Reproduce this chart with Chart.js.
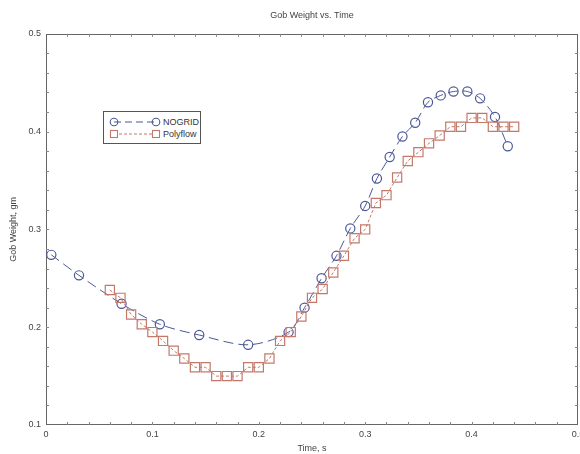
<!DOCTYPE html>
<html>
<head>
<meta charset="utf-8">
<script src="https://cdn.jsdelivr.net/npm/chart.js@4/dist/chart.umd.min.js"></script>
<style>
  html, body { margin: 0; padding: 0; background: #fff; }
  #wrap { position: relative; width: 580px; height: 454px; }
  #legend {
    position: absolute; left: 103px; top: 111px; width: 96px; height: 31px;
    border: 1px solid #555; background: #fff;
    font: 9px 'Liberation Sans', Arial, sans-serif; color: #333;
  }
  #legend svg { position: absolute; left: 0; top: 0; }
  #legend span { position: absolute; left: 59px; line-height: 10px; }
</style>
</head>
<body>
<div id="wrap">
  <canvas id="gobChart" width="580" height="454"></canvas>
  <div id="legend"></div>
</div>
<script>
'use strict';

/* ── 데이터 ─────────────────────────────── */
const NOGRID_TIME = [0.005, 0.031, 0.071, 0.107, 0.144, 0.190, 0.228, 0.243, 0.259, 0.273,
  0.286, 0.300, 0.311, 0.323, 0.335, 0.347, 0.359, 0.371, 0.383, 0.396, 0.408, 0.422, 0.434];
const NOGRID_WEIGHT = [0.274, 0.253, 0.224, 0.203, 0.192, 0.182, 0.195, 0.220, 0.250, 0.273,
  0.301, 0.324, 0.352, 0.374, 0.395, 0.409, 0.430, 0.437, 0.441, 0.441, 0.434, 0.415, 0.385];

const POLY_TIME = [0.06, 0.07, 0.08, 0.09, 0.10, 0.11, 0.12, 0.13, 0.14, 0.15,
  0.16, 0.17, 0.18, 0.19, 0.20, 0.21, 0.22, 0.23, 0.24, 0.25,
  0.26, 0.27, 0.28, 0.29, 0.30, 0.31, 0.32, 0.33, 0.34, 0.35,
  0.36, 0.37, 0.38, 0.39, 0.40, 0.41, 0.42, 0.43, 0.44];
const POLY_WEIGHT = [0.238, 0.230, 0.213, 0.203, 0.195, 0.186, 0.176, 0.168, 0.159, 0.159,
  0.150, 0.150, 0.150, 0.159, 0.159, 0.168, 0.186, 0.195, 0.211, 0.230,
  0.239, 0.256, 0.273, 0.291, 0.300, 0.327, 0.335, 0.353, 0.370, 0.379,
  0.388, 0.396, 0.405, 0.405, 0.414, 0.414, 0.405, 0.405, 0.405];

const X_TICKS = [0, 0.1, 0.2, 0.3, 0.4, 0.5];
const Y_TICKS = [0.1, 0.2, 0.3, 0.4, 0.5];

const BLUE = '#4b5896';
const RED  = '#c4786a';
const FONT = "'Liberation Sans', Arial, sans-serif";

function pairs(xs, ys) { return xs.map((x, i) => ({ x, y: ys[i] })); }

/* ── 테두리 + 안쪽 눈금 ──────────────────── */
const framePlugin = {
  id: 'frame',
  beforeDatasetsDraw(chart) {
    const { ctx, chartArea: a, scales: { x, y } } = chart;
    ctx.save();
    ctx.strokeStyle = '#666';
    ctx.lineWidth = 1;
    ctx.strokeRect(Math.round(a.left) + 0.5, Math.round(a.top) + 0.5,
      Math.round(a.right - a.left) - 1, Math.round(a.bottom - a.top) - 1);
    ctx.strokeStyle = '#888';
    ctx.beginPath();
    for (let i = 1; i < 25; i++) {
      const px = Math.round(x.getPixelForValue(i * 0.02)) + 0.5;
      ctx.moveTo(px, a.bottom); ctx.lineTo(px, a.bottom - 3);
      ctx.moveTo(px, a.top);    ctx.lineTo(px, a.top + 3);
    }
    for (let i = 1; i < 20; i++) {
      const py = Math.round(y.getPixelForValue(0.1 + i * 0.02)) + 0.5;
      ctx.moveTo(a.left, py);  ctx.lineTo(a.left + 3, py);
      ctx.moveTo(a.right, py); ctx.lineTo(a.right - 3, py);
    }
    ctx.stroke();
    ctx.restore();
  },
};

/* ── 차트 ───────────────────────────────── */
Chart.defaults.font.family = FONT;
Chart.defaults.color = '#444';

new Chart(document.getElementById('gobChart').getContext('2d'), {
  type: 'line',
  data: {
    datasets: [
      {
        label: 'Polyflow',
        data: pairs(POLY_TIME, POLY_WEIGHT),
        borderColor: RED,
        borderWidth: 1,
        borderDash: [3, 2],
        pointStyle: 'rect',
        pointRadius: 6.5,
        pointBorderColor: RED,
        pointBackgroundColor: 'rgba(0,0,0,0)',
        pointBorderWidth: 1.2,
        tension: 0,
        fill: false,
      },
      {
        label: 'NOGRID',
        data: pairs(NOGRID_TIME, NOGRID_WEIGHT),
        borderColor: BLUE,
        borderWidth: 1,
        borderDash: [10, 5],
        pointStyle: 'circle',
        pointRadius: 4.6,
        pointBorderColor: BLUE,
        pointBackgroundColor: 'rgba(0,0,0,0)',
        pointBorderWidth: 1.2,
        tension: 0.3,
        fill: false,
      },
    ],
  },
  options: {
    responsive: false,
    animation: false,
    layout: { autoPadding: false, padding: { left: 0, right: 2, top: 0, bottom: 0 } },
    plugins: {
      legend: { display: false },
      tooltip: { enabled: false },
      title: {
        display: true,
        fullSize: false,
        text: 'Gob Weight vs. Time',
        font: { size: 9, weight: 'normal' },
        color: '#444',
        padding: { top: 10, bottom: 13 },
      },
    },
    scales: {
      x: {
        type: 'linear',
        min: 0, max: 0.5,
        afterBuildTicks: s => { s.ticks = X_TICKS.map(v => ({ value: v })); },
        afterFit: s => { s.height = 29; s.paddingLeft = 0; s.paddingRight = 0; },
        grid: { display: false, drawTicks: false },
        border: { display: false },
        ticks: { font: { size: 9 }, padding: 4, maxRotation: 0, autoSkip: false,
          callback: v => String(+v.toFixed(1)) },
        title: { display: true, text: 'Time, s', font: { size: 9 }, padding: { top: 0, bottom: 0 } },
      },
      y: {
        type: 'linear',
        min: 0.1, max: 0.5,
        afterBuildTicks: s => { s.ticks = Y_TICKS.map(v => ({ value: v })); },
        afterFit: s => { s.width = 46; s.paddingTop = 0; s.paddingBottom = 0; },
        grid: { display: false, drawTicks: false },
        border: { display: false },
        ticks: { font: { size: 9 }, padding: 5, autoSkip: false,
          callback: v => String(+v.toFixed(1)) },
        title: { display: true, text: 'Gob Weight, gm', font: { size: 9 }, padding: { top: 8, bottom: 0 } },
      },
    },
  },
  plugins: [framePlugin],
});

/* ── 범례 (HTML) ───────────────────────── */
function renderLegend() {
  const el = document.getElementById('legend');
  el.innerHTML = `
    <svg width="96" height="31">
      <line x1="10" y1="10" x2="52" y2="10" stroke="${BLUE}" stroke-width="1" stroke-dasharray="7,4"/>
      <circle cx="10" cy="10" r="3.8" fill="none" stroke="${BLUE}" stroke-width="1.1"/>
      <circle cx="52" cy="10" r="3.8" fill="none" stroke="${BLUE}" stroke-width="1.1"/>
      <line x1="10" y1="22" x2="52" y2="22" stroke="${RED}" stroke-width="1" stroke-dasharray="3,2"/>
      <rect x="6.5" y="18.5" width="7" height="7" fill="#fff" stroke="${RED}" stroke-width="1.1"/>
      <rect x="48.5" y="18.5" width="7" height="7" fill="#fff" stroke="${RED}" stroke-width="1.1"/>
    </svg>
    <span style="top:5px">NOGRID</span>
    <span style="top:17px">Polyflow</span>`;
}
renderLegend();
</script>
</body>
</html>
